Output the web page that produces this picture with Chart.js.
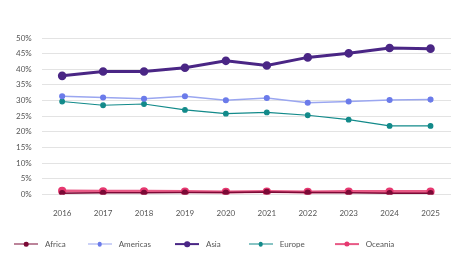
<!DOCTYPE html>
<html><head><meta charset="utf-8">
<script src="https://cdn.jsdelivr.net/npm/chart.js@4"></script>
<style>
html,body{margin:0;padding:0;background:#fff;}
#wrap{position:relative;width:471px;height:270px;font-family:Lato,"Open Sans",sans-serif;}
#cw{position:absolute;left:0;top:0;width:471px;height:240px;}
#legend{position:absolute;top:239px;left:14px;display:flex;font-size:8px;color:#555;}
.li{display:flex;align-items:center;}
.sym{position:relative;width:24px;height:10px;margin-right:7px;}
.sym .ln{position:absolute;left:0;right:0;top:50%;}
.sym .dt{position:absolute;left:50%;top:50%;border-radius:50%;transform:translate(-50%,-50%);}
</style></head>
<body><div id="wrap"><div id="cw"><canvas id="c"></canvas></div><div id="legend"></div></div>
<script>
const years = ["2016","2017","2018","2019","2020","2021","2022","2023","2024","2025"];
const africa   = [0.4,0.5,0.5,0.6,0.6,0.8,0.6,0.5,0.4,0.4];
const americas = [31.4,31.0,30.6,31.4,30.1,30.8,29.3,29.7,30.2,30.3];
const asia     = [37.9,39.3,39.3,40.5,42.7,41.2,43.8,45.1,46.8,46.6];
const europe   = [29.7,28.5,28.9,27.0,25.8,26.2,25.3,23.9,21.9,21.9];
const oceania  = [1.1,1.0,1.0,0.9,0.8,0.9,0.8,0.9,0.9,0.9];
const yTicks = [0,5,10,15,20,25,30,35,40,45,50];

const series = [
  {label:"Africa", data:africa, color:"#7b0a36", line:"#7b0a36", w:1.5, r:2.3, gap:22},
  {label:"Americas", data:americas, color:"#6b7bea", line:"#9aa6f0", w:1.5, r:2.3, gap:24},
  {label:"Asia", data:asia, color:"#4a2685", line:"#4a2685", w:3, r:2.8, gap:28},
  {label:"Europe", data:europe, color:"#128a8a", line:"#128a8a", w:1.2, r:2.3, gap:30},
  {label:"Oceania", data:oceania, color:"#e63870", line:"#e85a86", w:3, r:2.6, gap:0}
];

new Chart(document.getElementById('c'), {
  type:'line',
  data:{labels:years, datasets:series.map(s=>({label:s.label,data:s.data,borderColor:s.line,backgroundColor:s.color,
    pointBackgroundColor:s.color,pointBorderColor:s.color,borderWidth:s.w,pointRadius:s.r,pointHoverRadius:s.r,tension:0}))},
  options:{responsive:true,maintainAspectRatio:false,animation:false,
    layout:{padding:{left:6,right:20,top:38,bottom:8}},
    plugins:{legend:{display:false},tooltip:{enabled:false}},
    scales:{
      x:{offset:true,grid:{display:false,drawTicks:false},border:{display:false},ticks:{color:"#555",font:{family:"Lato",size:8},padding:14}},
      y:{min:0,max:50,afterBuildTicks:ax=>{ax.ticks=yTicks.map(v=>({value:v}));},
        grid:{color:"#e3e3e3",lineWidth:1,drawTicks:false},border:{display:false},
        ticks:{color:"#555",font:{family:"Lato",size:8},padding:10,callback:v=>v+"%"}}
    }}
});

const lg=document.getElementById('legend');
series.forEach(s=>{
  const d=document.createElement('div');d.className='li';d.style.marginRight=s.gap+'px';
  d.innerHTML='<span class="sym"><span class="ln" style="height:'+Math.max(1,s.w*0.6)+'px;transform:translateY(-50%);background:'+s.line+'"></span><span class="dt" style="width:'+(s.r*2)+'px;height:'+(s.r*2)+'px;background:'+s.color+'"></span></span><span>'+s.label+'</span>';
  lg.appendChild(d);
});
</script></body></html>
